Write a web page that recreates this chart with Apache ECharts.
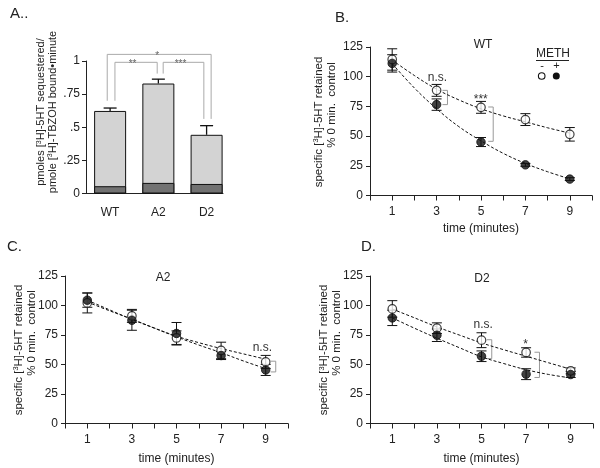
<!DOCTYPE html>
<html><head><meta charset="utf-8">
<script src="https://cdn.jsdelivr.net/npm/echarts@6/dist/echarts.min.js"></script>
<style>html,body{margin:0;padding:0;background:#fff}#c{width:600px;height:468px}</style>
</head><body><div id="c"></div>
<script>
const FONT = '"Liberation Sans", Arial, Helvetica, sans-serif';
const INK = '#222';

// ---------- Panel A ----------
const aCategories = ['WT', 'A2', 'D2'];
const aPositions = [0.5, 1.5, 2.5];
const aTotal = [0.623, 0.830, 0.443];
const aBasal = [0.055, 0.080, 0.072];
const aErrUp = [0.022, 0.033, 0.069];
const aTickLabels = {0: '0', 0.25: '.25', 0.5: '.5', 0.75: '.75', 1: '1'};
// x1, x2, top, leftBottom, rightBottom, labelX, label
const aBrackets = [
  [0.44, 2.594, 1.05, 0.70, 0.563, 1.475, '*'],
  [0.60, 1.476, 0.99, 0.70, 0.905, 0.965, '**'],
  [1.60, 2.443, 0.99, 0.905, 0.563, 1.96, '***']
];

// ---------- Time courses ----------
const times = [1, 3, 5, 7, 9];
const fitTimes = [1, 2, 3, 4, 5, 6, 7, 8, 9];

// B: WT
const bOpen = [114.5, 88.5, 74.2, 63.9, 51.5];
const bOpenErr = [9, 5, 5, 5, 5.7];
const bFilled = [111.2, 76.5, 45, 25.8, 13.8];
const bFilledErr = [7.3, 4.8, 3.8, 1.2, 1.2];
const bOpenFit = [114, 101, 89.5, 80.5, 73, 67, 62, 57, 52.5];
const bFilledFit = [111, 90.5, 73, 58, 46, 35.5, 27, 20, 14];
const bBrackets = [[3.49, 88.5, 76.5], [5.55, 74.5, 45.6]];
const bNotes = [[3.04, 99, 'n.s.'], [4.99, 80.5, '***']];

// C: A2
const cOpen = [102.2, 91.2, 72.5, 61.9, 52.2];
const cOpenErr = [8.5, 5.5, 6, 7, 5.5];
const cFilled = [104.5, 87.5, 76.3, 57.6, 45.4];
const cFilledErr = [6, 8.5, 9.3, 3.4, 4.7];
const cOpenFit = [103, 95.5, 88.5, 81, 74, 68.5, 63.5, 59, 54.5];
const cFilledFit = [104.5, 96.3, 88.2, 80.8, 73.4, 66.5, 60, 53, 46.5];
const cBrackets = [[9.45, 52.8, 43.7]];
const cNotes = [[8.85, 64, 'n.s.']];

// D: D2
const dOpen = [97.1, 80.8, 70.6, 60.2, 44.6];
const dOpenErr = [7, 4.5, 6.3, 4, 2.5];
const dFilled = [89.5, 74.8, 57, 41.8, 41.5];
const dFilledErr = [6.5, 5.3, 4.5, 4.6, 2.5];
const dOpenFit = [97, 89.5, 81.9, 75, 68.3, 62.5, 57, 51.5, 46];
const dFilledFit = [89.5, 80.7, 72.3, 64.3, 56.5, 50.8, 45.6, 41.6, 38.6];
const dBrackets = [[5.46, 71, 55], [7.6, 60.4, 39]];
const dNotes = [[5.08, 84, 'n.s.'], [6.98, 67, '*']];

// ---------- helpers ----------
const zip = (xs, ys) => xs.map((x, i) => [x, ys[i]]);
const zip3 = (xs, ys, es) => xs.map((x, i) => [x, ys[i], es[i]]);

function errSeries(xi, yi, data, cap) {
  return {
    type: 'custom', xAxisIndex: xi, yAxisIndex: yi, z: 3, clip: false,
    data: data,
    renderItem: function (params, api) {
      const x = api.value(0), y = api.value(1), e = api.value(2);
      const t = api.coord([x, y + e]), b = api.coord([x, y - e]);
      const st = {stroke: '#111', lineWidth: 1};
      return {type: 'group', children: [
        {type: 'line', shape: {x1: t[0], y1: t[1], x2: b[0], y2: b[1]}, style: st},
        {type: 'line', shape: {x1: t[0] - cap, y1: t[1], x2: t[0] + cap, y2: t[1]}, style: st},
        {type: 'line', shape: {x1: b[0] - cap, y1: b[1], x2: b[0] + cap, y2: b[1]}, style: st}
      ]};
    }
  };
}
function fitSeries(xi, yi, vals) {
  return {type: 'line', xAxisIndex: xi, yAxisIndex: yi, z: 2, smooth: 0.4, showSymbol: false, silent: true,
    data: zip(fitTimes, vals), lineStyle: {color: '#111', width: 1, type: [3, 2]}};
}
function markSeries(xi, yi, xs, ys, open) {
  return {type: 'scatter', xAxisIndex: xi, yAxisIndex: yi, z: 5, symbol: 'circle', symbolSize: 8.5,
    data: zip(xs, ys),
    itemStyle: open ? {color: '#fff', borderColor: '#111', borderWidth: 1.2} : {color: '#111', borderColor: '#111', borderWidth: 1}};
}
function bracketSeries(xi, yi, data) {
  return {type: 'custom', xAxisIndex: xi, yAxisIndex: yi, z: 1, clip: false, data: data,
    renderItem: function (params, api) {
      const t = api.coord([api.value(0), api.value(1)]), b = api.coord([api.value(0), api.value(2)]);
      const st = {stroke: '#999', lineWidth: 1};
      return {type: 'group', children: [
        {type: 'line', shape: {x1: t[0], y1: t[1], x2: b[0], y2: b[1]}, style: st},
        {type: 'line', shape: {x1: t[0] - 5, y1: t[1], x2: t[0], y2: t[1]}, style: st},
        {type: 'line', shape: {x1: b[0] - 5, y1: b[1], x2: b[0], y2: b[1]}, style: st}
      ]};
    }};
}
function noteSeries(xi, yi, data, color, size) {
  return {type: 'custom', xAxisIndex: xi, yAxisIndex: yi, z: 6, clip: false,
    data: data.map(d => [d[0], d[1]]),
    renderItem: function (params, api) {
      const p = api.coord([api.value(0), api.value(1)]);
      return {type: 'text', x: p[0], y: p[1], style: {text: data[params.dataIndex][2], fill: color,
        fontSize: size, fontFamily: FONT, align: 'center', verticalAlign: 'middle'}};
    }};
}
function timeX(gi, gap) {
  return {type: 'value', gridIndex: gi, min: 0, max: 10, interval: 1,
    axisLine: {show: true, onZero: false, lineStyle: {color: INK, width: 1}},
    axisTick: {show: true, length: 5, lineStyle: {color: INK}},
    axisLabel: {margin: 10, fontSize: 12, color: INK, fontFamily: FONT, formatter: v => (v % 2 === 1 ? String(v) : '')},
    splitLine: {show: false},
    name: 'time (minutes)', nameLocation: 'middle', nameGap: gap,
    nameTextStyle: {fontSize: 12, color: INK, fontFamily: FONT}};
}
function pctY(gi) {
  return {type: 'value', gridIndex: gi, min: 0, max: 125, interval: 25,
    axisLine: {show: true, onZero: false, lineStyle: {color: INK, width: 1}},
    axisTick: {show: true, length: 4, lineStyle: {color: INK}},
    axisLabel: {margin: 7, fontSize: 12, color: INK, fontFamily: FONT},
    splitLine: {show: false}};
}
const rich = {
  n: {fontSize: 11.5, fontFamily: FONT, fill: INK, lineHeight: 13},
  s: {fontSize: 7.5, fontFamily: FONT, fill: INK, verticalAlign: 'top', lineHeight: 13}
};
const richA = {
  n: {fontSize: 11, fontFamily: FONT, fill: INK, lineHeight: 11.5},
  s: {fontSize: 7, fontFamily: FONT, fill: INK, verticalAlign: 'top', lineHeight: 11.5}
};
function vtext(x, y, txt, r) {
  return {type: 'text', x: x, y: y, rotation: Math.PI / 2,
    style: {text: txt, rich: r || rich, align: 'center', verticalAlign: 'middle'}};
}
function htext(x, y, txt, size, align) {
  return {type: 'text', x: x, y: y, style: {text: txt, fontSize: size, fontFamily: FONT, fill: INK,
    align: align || 'center', verticalAlign: 'middle'}};
}
const yTitle1 = '{n|specific [}{s|3}{n|H]-5HT retained}';
const yTitle2 = '{n|% 0 min.  control}';

// ---------- Panel A series ----------
const aSeries = [
  {type: 'bar', xAxisIndex: 0, yAxisIndex: 0, barWidth: 32, barGap: '-100%', z: 2,
    data: zip(aPositions, aTotal), itemStyle: {color: '#d3d3d3', borderColor: '#111', borderWidth: 1}},
  {type: 'bar', xAxisIndex: 0, yAxisIndex: 0, barWidth: 32, barGap: '-100%', z: 3,
    data: zip(aPositions, aBasal), itemStyle: {color: '#727272', borderColor: '#111', borderWidth: 1}},
  {type: 'custom', xAxisIndex: 0, yAxisIndex: 0, z: 4, clip: false,
    data: zip3(aPositions, aTotal, aErrUp),
    renderItem: function (params, api) {
      const x = api.value(0), y = api.value(1), e = api.value(2);
      const b = api.coord([x, y]), t = api.coord([x, y + e]);
      const st = {stroke: '#111', lineWidth: 1.3};
      return {type: 'group', children: [
        {type: 'line', shape: {x1: b[0], y1: b[1], x2: t[0], y2: t[1]}, style: st},
        {type: 'line', shape: {x1: t[0] - 6.5, y1: t[1], x2: t[0] + 6.5, y2: t[1]}, style: st}
      ]};
    }},
  {type: 'custom', xAxisIndex: 0, yAxisIndex: 0, z: 1, clip: false,
    data: aBrackets.map(r => [r[0], r[1], r[2], r[3], r[4], r[5]]),
    renderItem: function (params, api) {
      const x1 = api.value(0), x2 = api.value(1), top = api.value(2), lb = api.value(3), rb = api.value(4), lx = api.value(5);
      const pTL = api.coord([x1, top]), pTR = api.coord([x2, top]);
      const pLB = api.coord([x1, lb]), pRB = api.coord([x2, rb]);
      const pL = api.coord([lx, top]);
      const st = {stroke: '#aaa', lineWidth: 1};
      return {type: 'group', children: [
        {type: 'polyline', shape: {points: [pLB, pTL, pTR, pRB]}, style: Object.assign({fill: null}, st)},
        {type: 'text', x: pL[0], y: pL[1] + 2, style: {text: aBrackets[params.dataIndex][6], fill: '#666',
          fontSize: 10, fontFamily: FONT, align: 'center', verticalAlign: 'middle'}}
      ]};
    }}
];

const option = {
  animation: false,
  backgroundColor: '#fff',
  grid: [
    {left: 86, top: 61, width: 137, height: 132.5},
    {left: 370, top: 47, width: 222, height: 148.5},
    {left: 65, top: 276, width: 223, height: 147.5},
    {left: 370, top: 276, width: 223, height: 147.5}
  ],
  xAxis: [
    {type: 'value', gridIndex: 0, min: 0, max: 2.84, interval: 0.5,
      axisLine: {show: true, onZero: false, lineStyle: {color: INK}}, axisTick: {show: false},
      splitLine: {show: false},
      axisLabel: {margin: 13, fontSize: 12, color: INK, fontFamily: FONT, showMaxLabel: false,
        formatter: v => { const i = aPositions.indexOf(v); return i >= 0 ? aCategories[i] : ''; }}},
    timeX(1, 27), timeX(2, 29), timeX(3, 29)
  ],
  yAxis: [
    {type: 'value', gridIndex: 0, min: 0, max: 1, interval: 0.25,
      axisLine: {show: true, onZero: false, lineStyle: {color: INK}},
      axisTick: {show: true, length: 4, lineStyle: {color: INK}},
      axisLabel: {margin: 6, fontSize: 12, color: INK, fontFamily: FONT, formatter: v => aTickLabels[v]},
      splitLine: {show: false}},
    pctY(1), pctY(2), pctY(3)
  ],
  series: [].concat(
    aSeries,
    [fitSeries(1, 1, bOpenFit), fitSeries(1, 1, bFilledFit),
     errSeries(1, 1, zip3(times, bOpen, bOpenErr), 5), errSeries(1, 1, zip3(times, bFilled, bFilledErr), 5),
     markSeries(1, 1, times, bOpen, true), markSeries(1, 1, times, bFilled, false),
     bracketSeries(1, 1, bBrackets), noteSeries(1, 1, bNotes, '#333', 12)],
    [fitSeries(2, 2, cOpenFit), fitSeries(2, 2, cFilledFit),
     errSeries(2, 2, zip3(times, cOpen, cOpenErr), 5), errSeries(2, 2, zip3(times, cFilled, cFilledErr), 5),
     markSeries(2, 2, times, cOpen, true), markSeries(2, 2, times, cFilled, false),
     bracketSeries(2, 2, cBrackets), noteSeries(2, 2, cNotes, '#333', 12)],
    [fitSeries(3, 3, dOpenFit), fitSeries(3, 3, dFilledFit),
     errSeries(3, 3, zip3(times, dOpen, dOpenErr), 5), errSeries(3, 3, zip3(times, dFilled, dFilledErr), 5),
     markSeries(3, 3, times, dOpen, true), markSeries(3, 3, times, dFilled, false),
     bracketSeries(3, 3, dBrackets), noteSeries(3, 3, dNotes, '#333', 12)]
  ),
  graphic: [
    htext(10, 14, 'A..', 15, 'left'),
    htext(335, 18, 'B.', 15, 'left'),
    htext(7, 247, 'C.', 15, 'left'),
    htext(361, 247, 'D.', 15, 'left'),
    htext(483, 45, 'WT', 12),
    htext(163, 278, 'A2', 12),
    htext(482, 279, 'D2', 12),
    vtext(47, 112, '{n|pmoles [}{s|3}{n|H]-5HT sequestered/}\n{n|pmole [}{s|3}{n|H]-TBZOH bound•minute}', richA),
    vtext(318.5, 122, yTitle1), vtext(331.5, 105, yTitle2),
    vtext(18.5, 350, yTitle1), vtext(32, 333, yTitle2),
    vtext(324, 350, yTitle1), vtext(337, 333, yTitle2),
    // legend for METH
    htext(553, 54, 'METH', 12),
    {type: 'line', shape: {x1: 536, y1: 60.5, x2: 569, y2: 60.5}, style: {stroke: INK, lineWidth: 1}},
    htext(542, 65.5, '-', 11), htext(556.5, 65.5, '+', 11),
    {type: 'circle', shape: {cx: 541.7, cy: 76, r: 3.3}, style: {fill: '#fff', stroke: '#111', lineWidth: 1.1}},
    {type: 'circle', shape: {cx: 556.3, cy: 76, r: 3.5}, style: {fill: '#111'}}
  ]
};
echarts.init(document.getElementById('c'), null, {renderer: 'canvas'}).setOption(option);
</script>
</body></html>
